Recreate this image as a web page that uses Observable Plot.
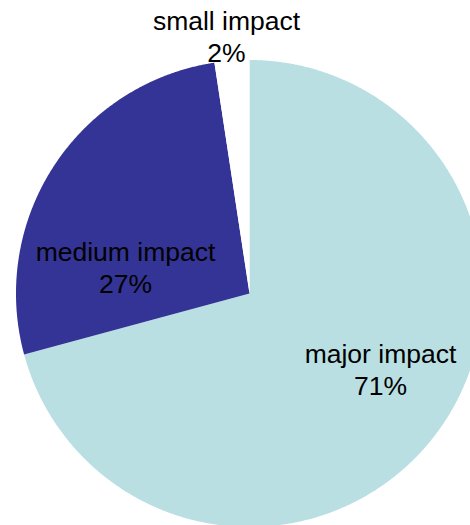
<!DOCTYPE html>
<html><head><meta charset="utf-8">
<script src="https://cdn.jsdelivr.net/npm/d3@7"></script>
<script src="https://cdn.jsdelivr.net/npm/@observablehq/plot@0.6"></script>
<style>html,body{margin:0;padding:0;background:#fff;overflow:hidden} svg{display:block}</style>
</head><body><div id="chart"></div>
<script>
const categories = ["major impact", "medium impact", "small impact"];
const shares = [70.8, 26.8, 2.4];
const shareLabels = ["71%", "27%", "2%"];
const colors = ["#b9dfe3", "#343496", "#ffffff"];
// label placement, in units of the pie radius relative to its centre
const labelDX = [0.561, -0.531, -0.0985];
const labelDY = [-0.322, 0.1156, 1.104];

const W = 470, H = 525, R = 233.5, cx = 249, cy = 293;
const arcs = d3.pie().sort(null).value(d => d)(shares);
const pts = [];
arcs.forEach((a, i) => {
  const k = categories[i];
  pts.push({k, x: 0, y: 0});
  const n = Math.max(2, Math.ceil((a.endAngle - a.startAngle) / 0.004));
  for (let j = 0; j <= n; j++) {
    const t = a.startAngle + (a.endAngle - a.startAngle) * j / n;
    pts.push({k, x: Math.sin(t), y: Math.cos(t)});
  }
  pts.push({k, x: 0, y: 0});
});
const labelData = categories.map((c, i) => ({
  text: c + "\n" + shareLabels[i], x: labelDX[i], y: labelDY[i]
}));

const plot = Plot.plot({
  width: W, height: H, margin: 0,
  style: {fontFamily: "'Liberation Sans', Arial, sans-serif", background: "#fff"},
  x: {domain: [-cx / R, (W - cx) / R], axis: null},
  y: {domain: [-(H - cy) / R, cy / R], axis: null},
  color: {domain: categories, range: colors},
  marks: [
    Plot.line(pts, {x: "x", y: "y", z: "k", fill: "k", stroke: "none", clip: true, curve: "linear"}),
    Plot.text(labelData, {x: "x", y: "y", text: "text", fontSize: 26.5, lineHeight: 1.2, fill: "#000", textAnchor: "middle"})
  ]
});
document.getElementById("chart").append(plot);
</script>
</body></html>
